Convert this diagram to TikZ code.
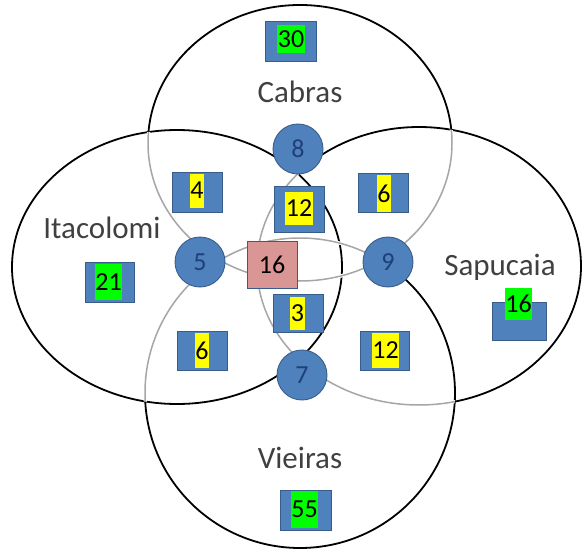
\documentclass[tikz,border=0pt]{standalone}
\usepackage{fontspec}
\setmainfont{Carlito}
\definecolor{cell}{HTML}{4F81BD}
\definecolor{celledge}{HTML}{385D8A}
\definecolor{hubtext}{HTML}{1F3F77}
\definecolor{core}{HTML}{D99694}
\definecolor{lbl}{HTML}{404040}
\definecolor{inner}{HTML}{A6A6A6}
\definecolor{hlgreen}{HTML}{00FF00}
\definecolor{hlyellow}{HTML}{FFFF00}
\tikzset{cellbox/.style={draw=celledge,fill=#1,line width=0.9pt,inner sep=0pt,minimum width=50pt,minimum height=40pt},cellbox/.default=cell,
hl/.style={fill=#1,inner xsep=0.6pt,inner ysep=0pt,minimum height=34pt,text=black,font={\fontsize{26}{28}\selectfont}},
hubnode/.style={circle,draw=celledge,fill=cell,line width=0.9pt,minimum size=50pt,inner sep=0pt,text=hubtext,font={\fontsize{26}{28}\selectfont}},
setname/.style={text=lbl,font={\fontsize{31}{33}\selectfont}},
rim/.style={line width=1.8pt,draw=black},seam/.style={line width=1.5pt,draw=inner}}
\def\pathCab{(300,143) ellipse [x radius=152pt,y radius=138pt]}
\def\pathIta{(177,267) ellipse [x radius=165pt,y radius=137pt]}
\def\pathSap{(419,266) ellipse [x radius=162pt,y radius=139pt]}
\def\pathVie{(300,393) ellipse [x radius=155pt,y radius=155pt]}
\newcommand\seamin[2]{\begin{scope}\clip #1;\draw[white,line width=3.2pt] #2;\draw[seam] #2;\end{scope}}

\begin{document}
\begin{tikzpicture}[x=1pt,y=-1pt]
\useasboundingbox (0,0) rectangle (584,551);
% set outlines
\draw[rim] \pathCab;\draw[rim] \pathIta;\draw[rim] \pathSap;\draw[rim] \pathVie;
% lighter parts inside other sets
\seamin{\pathIta}{\pathCab}\seamin{\pathSap}{\pathCab}
\seamin{\pathIta}{\pathVie}\seamin{\pathCab}{\pathVie}
\seamin{\pathIta}{\pathSap}\seamin{\pathVie}{\pathSap}
% set names
\node[setname](cab) at (300,92){Cabras};\node[setname](ita) at (102,228){Itacolomi};
\node[setname](sap) at (500,267){Sapucaia};\node[setname](vie) at (300,458){Vieiras};
% region counts
\node[cellbox,minimum width=51pt](b30) at (290.5,41){};\node[hl=hlgreen,minimum height=28pt](n30) at (291,39){30};
\node[cellbox,minimum width=49pt](b21) at (109.5,282.5){};\node[hl=hlgreen,minimum height=36pt](n21) at (108.5,282){21};
\node[cellbox,minimum width=54pt,minimum height=38pt](b16s) at (519,321){};\node[hl=hlgreen,minimum height=32pt](n16s) at (518.5,304){16};
\node[cellbox,minimum width=51pt](b55) at (305.5,510){};\node[hl=hlgreen,minimum height=37pt](n55) at (304.5,509.5){55};
\node[cellbox](b4) at (197.5,192){};\node[hl=hlyellow](n4) at (197,190.5){4};
\node[cellbox,minimum height=46pt](b12t) at (299,209){};\node[hl=hlyellow,minimum height=33pt](n12t) at (299,208.5){12};
\node[cellbox,minimum height=39pt](b6t) at (383,192.5){};\node[hl=hlyellow,minimum height=37pt](n6t) at (384,193.5){6};
\node[cellbox,minimum height=38pt](b3) at (298,313){};\node[hl=hlyellow,minimum height=33pt](n3) at (297.5,313.5){3};
\node[cellbox,minimum height=39pt](b6b) at (202,350.5){};\node[hl=hlyellow,minimum height=35pt](n6b) at (202,350.5){6};
\node[cellbox,minimum width=49pt,minimum height=39pt](b12b) at (384.5,350.5){};\node[hl=hlyellow,minimum height=35pt](n12b) at (385.5,350.5){12};
\node[cellbox=core,minimum height=47pt,font={\fontsize{26}{28}\selectfont}](b16c) at (272,264.5){16};
% crossing points
\node[hubnode](h8) at (298,149){8};\node[hubnode](h5) at (200,262){5};
\node[hubnode](h9) at (388,262){9};\node[hubnode](h7) at (302,375){7};
\end{tikzpicture}
\end{document}
